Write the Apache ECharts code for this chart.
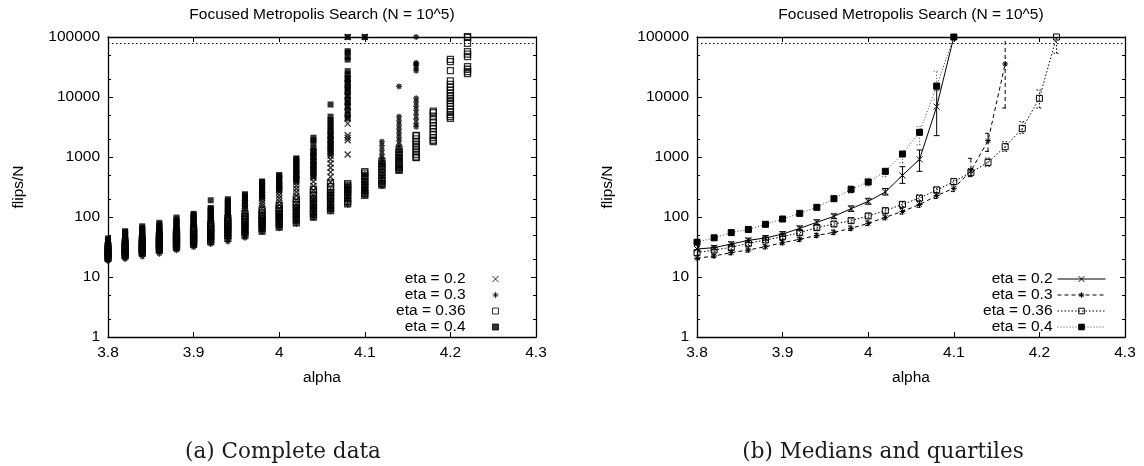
<!DOCTYPE html>
<html>
<head>
<meta charset="utf-8">
<title>Focused Metropolis Search</title>
<script src="https://cdn.jsdelivr.net/npm/echarts@6/dist/echarts.min.js"></script>
<style>
  html, body { margin: 0; padding: 0; background: #fff; }
  #chart { width: 1144px; height: 466px; }
</style>
</head>
<body>
<div id="chart"></div>
<script>
// alpha grid shared by both panels
const alphas = [3.80, 3.82, 3.84, 3.86, 3.88, 3.90, 3.92, 3.94, 3.96, 3.98, 4.00,
                4.02, 4.04, 4.06, 4.08, 4.10, 4.12, 4.14, 4.16, 4.18, 4.20, 4.22];

const xTicks = [3.8, 3.9, 4.0, 4.1, 4.2, 4.3];
const yTicks = [1, 10, 100, 1000, 10000, 100000];
const yMinorTicks = [2, 5, 20, 50, 200, 500, 2000, 5000, 20000, 50000];
const flipCutoff = 80000;

const etaNames = ['eta = 0.2', 'eta = 0.3', 'eta = 0.36', 'eta = 0.4'];

// (a) every run: one list of flips/N per alpha
const runsEta02 = [
  [22, 24, 26, 28, 29, 31, 33, 35, 38],
  [24, 26, 28, 30, 31, 33, 35, 38, 41],
  [27, 29, 31.5, 34, 36, 38, 41, 44, 48],
  [30, 33, 36, 39, 41, 44, 47, 51, 55],
  [34, 37, 40, 43, 45, 48, 52, 56, 61],
  [38, 42, 46, 50, 52, 56, 60, 65, 70],
  [45, 50, 55, 60, 65, 70, 76, 82, 90],
  [55, 61, 68, 75, 82, 89, 97, 106, 115],
  [66, 74, 83, 92, 103, 113, 125, 138, 152, 170],
  [85, 95, 107, 120, 138, 152, 168, 185, 205, 230],
  [105, 120, 137, 158, 182, 205, 230, 260, 295, 335],
  [140, 165, 195, 228, 261, 295, 335, 380, 430, 500],
  [230, 280, 330, 390, 450, 494, 560, 640, 730, 850, 1000, 1200],
  [380, 470, 560, 660, 780, 915, 1050, 1200, 1380, 1600, 1900, 2300],
  [1100, 1900, 2100, 2300, 3600, 4500, 5500, 6900, 8500, 10500, 13000, 17000, 20000, 100000],
  [100000]
];
const runsEta03 = [
  [18.5, 19.5, 20.5, 21.5, 23, 25, 27],
  [20, 21.4, 22.4, 23.5, 25, 27, 29],
  [22, 24, 25.5, 27, 29, 31, 34],
  [24.5, 26.5, 28, 30, 32, 34.5, 37],
  [28, 30.5, 32, 34, 36.5, 39, 42],
  [31.5, 34.5, 37, 39.5, 42, 45, 49],
  [35.5, 39.5, 42.5, 45.5, 49, 53, 57],
  [39, 44, 47.5, 49.5, 53, 57, 62, 68],
  [45, 50, 53.5, 56, 60, 65, 70, 76],
  [56, 61, 65, 70, 75, 81, 88],
  [65, 71, 76, 79, 85, 92, 100, 110],
  [77, 85, 92, 99, 107, 116, 127, 140],
  [96, 106, 115, 124, 134, 146, 160, 178, 200],
  [125, 138, 150, 161, 174, 190, 210, 235, 270],
  [160, 190, 210, 227, 250, 275, 305, 340],
  [228, 265, 290, 301, 330, 365, 400, 450, 520],
  [330, 380, 440, 500, 585, 680, 780, 835, 950, 1100, 1300, 1550, 1800],
  [600, 700, 850, 1000, 1200, 1400, 1600, 1871, 2150, 2500, 2900, 3400, 4000, 4700, 15000],
  [3200, 3600, 4300, 5100, 6000, 7000, 8200, 9500, 27500, 30000, 34000, 35500, 37000, 100000]
];
const runsEta036 = [
  [20.5, 21.5, 23, 25, 26, 28, 30, 33],
  [22.5, 23.5, 25.5, 27.5, 28, 30, 32.5, 35, 38],
  [25, 26, 28, 30, 31, 33.5, 36, 39, 43],
  [28, 29.5, 32, 35, 36.5, 39, 42, 46, 50],
  [31, 33, 36, 39.5, 41.5, 44.5, 48, 52, 57],
  [35, 37.5, 41, 44.5, 47, 51, 55, 60, 66],
  [39, 42, 46.5, 51, 55, 59.5, 64.5, 70, 77],
  [44, 49, 55, 61, 66, 72, 79, 87, 96],
  [50, 56, 62, 69, 76, 84, 92, 102, 114],
  [58, 65, 72, 80, 87, 95, 105, 116, 130],
  [68, 76, 85, 95, 104, 114, 126, 140, 158],
  [80, 90, 101, 114, 128, 142, 158, 176, 200],
  [100, 110, 124, 140, 163, 180, 200, 225, 255, 290],
  [128, 140, 158, 180, 207, 230, 255, 282, 320, 370],
  [165, 180, 205, 235, 260, 282, 310, 340, 360],
  [230, 245, 275, 310, 350, 388, 430, 480, 540, 570],
  [340, 360, 400, 445, 500, 555, 620, 690, 770, 850],
  [600, 620, 680, 740, 815, 890, 980, 1080, 1200, 1350],
  [980, 1000, 1100, 1220, 1350, 1486, 1640, 1800, 2000, 2250, 2300],
  [1800, 1900, 2100, 2350, 2650, 3006, 3300, 3700, 4200, 4800, 5500, 5800],
  [4400, 4700, 5100, 5700, 6300, 7000, 7800, 8700, 9510, 10500, 11700, 13000, 14500, 16200, 18500, 27500, 39000, 42500],
  [24500, 26500, 29000, 32000, 47000, 52000, 57000, 78000, 100000, 100000]
];
const runsEta04 = [
  [31, 33, 35, 37, 38, 40, 42, 44],
  [37, 39, 41, 43, 45, 47, 50, 53, 56, 58],
  [44, 47, 50, 53, 55, 58, 62, 66, 70],
  [50, 53, 56, 59, 62, 66, 70, 75, 80],
  [60, 64, 68, 72, 76, 80, 85, 91, 98],
  [73, 78, 83, 88, 93, 98, 104, 110, 113],
  [90, 96, 102, 108, 115, 122, 130, 138, 141, 190],
  [112, 119, 127, 135, 145, 154, 164, 175, 187, 198],
  [150, 160, 172, 185, 200, 215, 230, 240],
  [215, 230, 248, 268, 289, 310, 333, 358, 385, 390],
  [280, 300, 322, 345, 370, 395, 425, 455, 490, 500],
  [400, 430, 465, 500, 540, 580, 625, 675, 730, 790, 850, 920, 950],
  [480, 520, 570, 620, 680, 750, 820, 900, 990, 1080, 1180, 1290, 1400, 1700, 1900, 2100],
  [1150, 1300, 1450, 1600, 1780, 1980, 2200, 2450, 2720, 3020, 3350, 3720, 4130, 4700, 7500],
  [4400, 5000, 6000, 7000, 8000, 9000, 10500, 12000, 13500, 15000, 17000, 19000, 21000, 24000, 27000,
   42000, 46000, 55000, 58000, 100000],
  [100000]
];

// (b) medians with lower and upper quartiles per alpha
const medEta02 = [29.3, 30.8, 35.5, 40.8, 44.7, 52, 64.7, 81.5, 102.6, 137.6, 182, 261, 494, 915, 6900, 100000];
const q1Eta02  = [27, 28.5, 32.5, 37.5, 41, 47.5, 59, 74, 94, 124, 163, 232, 364, 577, 2270, 100000];
const q3Eta02  = [32, 33.5, 38.5, 44.5, 49, 57, 71, 90, 113, 153, 205, 298, 690, 1309, 13100, 100000];

const medEta03 = [20.5, 22.4, 25.5, 28.2, 32, 37.3, 42.5, 49.4, 55.5, 64.7, 78.4, 98.6, 124, 161, 227, 301, 585, 1871, 35500];
const q1Eta03  = [19, 21, 23.5, 26, 29.5, 34.5, 39, 45.5, 51, 59.5, 72, 90, 112, 145, 203, 265, 470, 1240, 6560];
const q3Eta03  = [22, 24, 27.5, 30.5, 34.5, 40.5, 46, 53.5, 60.5, 70.5, 86, 108, 138, 180, 255, 345, 950, 2480, 100000];

const medEta036 = [25.5, 28.2, 31.2, 36.4, 41.4, 47, 54.8, 66.4, 76.4, 86.9, 104, 127.6, 162.6, 207, 282, 388, 555, 815, 1486, 3006, 9510, 100000];
const q1Eta036  = [23.5, 26, 28.5, 33.5, 38, 43, 50, 61, 70, 79, 95, 116, 147, 186, 252, 345, 480, 700, 1240, 2480, 6560, 53500];
const q3Eta036  = [28, 30.5, 34, 40, 45, 51, 60, 72, 84, 96, 115, 141, 180, 232, 318, 440, 640, 960, 1800, 3880, 13100, 100000];

const medEta04 = [38, 45, 55, 62, 75.5, 92.6, 115, 145, 202, 289, 383, 577, 1122, 2577, 15240, 100000];
const q1Eta04  = [35, 41.5, 50, 57, 69, 85, 104, 130, 180, 250, 330, 470, 800, 1600, 9000, 100000];
const q3Eta04  = [41, 48.5, 59, 67, 82, 101, 126, 160, 225, 330, 440, 640, 1200, 3200, 27000, 100000];

// ---- helpers -------------------------------------------------------------
const SANS = '"Liberation Sans", Arial, Helvetica, sans-serif';
const SERIF = '"DejaVu Serif", "Liberation Serif", serif';
const FS = 15.5;

const crossPath = 'path://M0 0L10 10M10 0L0 10';
const starPath = 'path://M5 0L5 10M0 5L10 5M1.5 1.5L8.5 8.5M8.5 1.5L1.5 8.5';
const squarePath = 'path://M0 0L10 0L10 10L0 10Z';

// marker look per eta (same order as etaNames)
const markers = [
  { symbol: crossPath, size: 6, style: { color: 'transparent', borderColor: '#000', borderWidth: 1.3 } },
  { symbol: starPath, size: 6, style: { color: 'transparent', borderColor: '#000', borderWidth: 1.3 } },
  { symbol: squarePath, size: 6, style: { color: 'transparent', borderColor: '#000', borderWidth: 1.3 } },
  { symbol: squarePath, size: 6, style: { color: '#000', borderColor: '#000', borderWidth: 0 } }
];
const lineDashes = ['solid', [4, 3], [1.5, 2], [1, 2]];
const lineColors = ['#000', '#000', '#000', '#444'];

function pairs(cols) {
  const out = [];
  cols.forEach((vals, i) => vals.forEach(v => out.push([alphas[i], v])));
  return out;
}
function medianLine(med) { return med.map((v, i) => [alphas[i], v]); }
function quartileRows(q1, q3) { return q1.map((v, i) => [alphas[i], v, q3[i]]); }

function axesFor(g) {
  const line = { show: true, onZero: false, lineStyle: { color: '#000', width: 1.3 } };
  const label = { color: '#000', fontSize: FS, fontFamily: SANS };
  const x = [
    { gridIndex: g, type: 'value', position: 'bottom', min: 3.8, max: 4.3, interval: 0.1,
      axisLine: line, splitLine: { show: false },
      axisTick: { inside: true, length: 5, lineStyle: { color: '#000' } },
      axisLabel: Object.assign({ margin: 8, customValues: xTicks,
        formatter: v => String(Math.round(v * 10) / 10) }, label) },
    { gridIndex: g, type: 'value', position: 'top', min: 3.8, max: 4.3, interval: 0.1,
      axisLine: line, splitLine: { show: false },
      axisTick: { inside: true, length: 5, lineStyle: { color: '#000' } },
      axisLabel: { show: false } }
  ];
  const logBase = { gridIndex: g, type: 'log', logBase: 10, min: 1, max: 100000, splitLine: { show: false } };
  const y = [
    Object.assign({}, logBase, { position: 'left', axisLine: line,
      axisTick: { inside: true, length: 5, customValues: yTicks, lineStyle: { color: '#000' } },
      axisLabel: Object.assign({ margin: 8, customValues: yTicks,
        formatter: v => String(Math.round(v)) }, label) }),
    Object.assign({}, logBase, { position: 'left', axisLine: { show: false },
      axisTick: { inside: true, length: 3, customValues: yMinorTicks, lineStyle: { color: '#000' } },
      axisLabel: { show: false } }),
    Object.assign({}, logBase, { position: 'right', axisLine: line,
      axisTick: { inside: true, length: 5, customValues: yTicks, lineStyle: { color: '#000' } },
      axisLabel: { show: false } }),
    Object.assign({}, logBase, { position: 'right', axisLine: { show: false },
      axisTick: { inside: true, length: 3, customValues: yMinorTicks, lineStyle: { color: '#000' } },
      axisLabel: { show: false } })
  ];
  return { x, y };
}

const a0 = axesFor(0), a1 = axesFor(1);

const cutoffLine = {
  silent: true, symbol: 'none', label: { show: false },
  lineStyle: { color: '#000', width: 1, type: [1.5, 2.5] },
  data: [{ yAxis: flipCutoff }]
};

// ---- (a) complete data ---------------------------------------------------
const runs = [runsEta02, runsEta03, runsEta036, runsEta04];
const scatterSeries = runs.map((cols, k) => ({
  name: etaNames[k],
  type: 'scatter',
  xAxisIndex: 0, yAxisIndex: 0,
  silent: true,
  symbol: markers[k].symbol,
  symbolSize: markers[k].size,
  itemStyle: markers[k].style,
  data: pairs(cols),
  markLine: k === 0 ? cutoffLine : undefined,
  z: 2 + k
}));

// ---- (b) medians and quartiles -------------------------------------------
const meds = [medEta02, medEta03, medEta036, medEta04];
const q1s = [q1Eta02, q1Eta03, q1Eta036, q1Eta04];
const q3s = [q3Eta02, q3Eta03, q3Eta036, q3Eta04];

const lineMarkerStyle = k => Object.assign({}, markers[k].style, { borderWidth: 1 });

const lineSeries = meds.map((med, k) => ({
  name: etaNames[k] + ' ',
  type: 'line',
  xAxisIndex: 2, yAxisIndex: 4,
  silent: true,
  showAllSymbol: true,
  symbol: markers[k].symbol,
  symbolSize: markers[k].size,
  itemStyle: lineMarkerStyle(k),
  lineStyle: { color: lineColors[k], width: 1, type: lineDashes[k] },
  data: medianLine(med),
  markLine: k === 0 ? cutoffLine : undefined,
  z: 3 + k
}));

const barSeries = meds.map((med, k) => ({
  type: 'custom',
  xAxisIndex: 2, yAxisIndex: 4,
  silent: true,
  clip: true,
  encode: { x: 0, y: [1, 2] },
  data: quartileRows(q1s[k], q3s[k]),
  z: 2,
  renderItem: (params, api) => {
    const x = api.value(0);
    const lo = api.coord([x, api.value(1)]);
    const hi = api.coord([x, api.value(2)]);
    const dash = lineDashes[k] === 'solid' ? null : lineDashes[k];
    const style = { stroke: lineColors[k], lineWidth: 1, lineDash: dash, fill: null };
    const w = 3;
    return {
      type: 'group',
      children: [
        { type: 'line', shape: { x1: lo[0], y1: lo[1], x2: hi[0], y2: hi[1] }, style },
        { type: 'line', shape: { x1: lo[0] - w, y1: lo[1], x2: lo[0] + w, y2: lo[1] }, style },
        { type: 'line', shape: { x1: hi[0] - w, y1: hi[1], x2: hi[0] + w, y2: hi[1] }, style }
      ]
    };
  }
}));

function legendItems(suffix) {
  return etaNames.map((n, k) => ({
    name: n + suffix,
    itemStyle: Object.assign({}, markers[k].style, { borderWidth: 1 })
  }));
}
const legendText = { color: '#000', fontSize: FS, fontFamily: SANS };

function txt(text, x, y, opts) {
  return Object.assign({
    type: 'text', x, y, silent: true,
    style: Object.assign({
      text, fill: '#000', fontSize: FS, fontFamily: SANS,
      align: 'center', verticalAlign: 'middle',
      textAlign: 'center', textVerticalAlign: 'middle'
    }, (opts && opts.style) || {})
  }, (opts && opts.el) || {});
}
const heading = 'Focused Metropolis Search (N = 10^5)';

const option = {
  animation: false,
  backgroundColor: '#fff',
  grid: [
    { left: 108, top: 37, width: 428, height: 300 },
    { left: 697, top: 37, width: 428, height: 300 }
  ],
  xAxis: a0.x.concat(a1.x),
  yAxis: a0.y.concat(a1.y),
  legend: [
    { data: legendItems(''), orient: 'vertical', align: 'right', right: 645, top: 271,
      itemWidth: 50, itemHeight: 6, itemGap: 0, padding: 0, selectedMode: false,
      symbolKeepAspect: true,
      textStyle: legendText, lineStyle: { width: 1 } },
    { data: legendItems(' '), orient: 'vertical', align: 'right', right: 38, top: 271,
      itemWidth: 48, itemHeight: 7, itemGap: 0, padding: 0, selectedMode: false,
      symbolKeepAspect: true,
      textStyle: legendText, lineStyle: { width: 1 },
      formatter: n => n.trim() }
  ],
  graphic: [
    txt(heading, 322, 15),
    txt(heading, 911, 15),
    txt('alpha', 322, 378),
    txt('alpha', 911, 378),
    txt('flips/N', 18.5, 187, { el: { rotation: Math.PI / 2 } }),
    txt('flips/N', 607.5, 187, { el: { rotation: Math.PI / 2 } }),
    txt('(a) Complete data', 283, 452, { style: { fontFamily: SERIF, fontSize: 21.5, fill: '#1a1a1a' } }),
    txt('(b) Medians and quartiles', 883, 452, { style: { fontFamily: SERIF, fontSize: 21.5, fill: '#1a1a1a' } })
  ],
  series: scatterSeries.concat(barSeries, lineSeries)
};

const chart = echarts.init(document.getElementById('chart'), null, { renderer: 'canvas' });
chart.setOption(option);
</script>
</body>
</html>
